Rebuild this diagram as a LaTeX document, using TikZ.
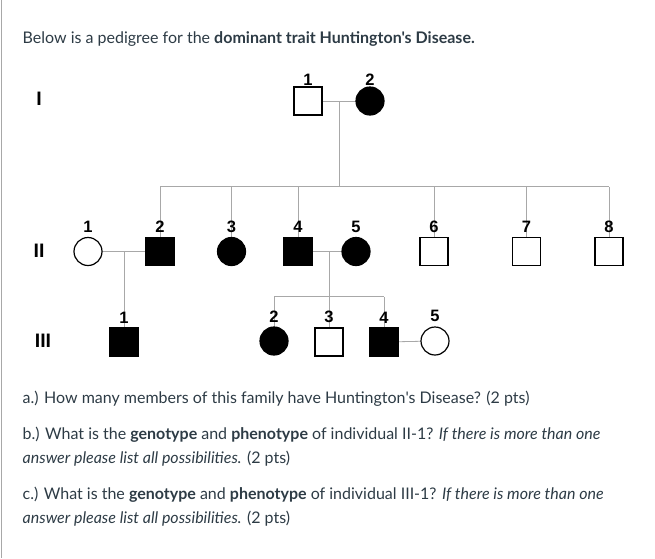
\documentclass[tikz,border=0pt]{standalone}
\usepackage{fontspec}
\setmainfont{Lato}[Ligatures=TeXOff]
\newfontfamily\pedfont{Liberation Sans}
\usetikzlibrary{positioning,backgrounds}
\definecolor{canvastext}{HTML}{2D3B45}
\definecolor{pedline}{HTML}{A8A8A8}

\begin{document}
\begin{tikzpicture}[x=1pt, y=-1pt,
  every node/.style={inner sep=0pt, outer sep=0pt},
  person/.style={draw, line width=1.2pt, minimum size=28pt},
  male/.style={person, rectangle},
  female/.style={person, circle},
  hd/.style={fill=black},
  num/.style={font=\pedfont\bfseries\fontsize{16.5}{16.5}\selectfont, label distance=#1},
  num/.default=5pt,
  gen/.style={font=\pedfont\bfseries\fontsize{19.5}{19.5}\selectfont},
  txt/.style={anchor=base west, font=\fontsize{16}{25}\selectfont, text=canvastext},
  kin/.style={draw=pedline, line width=0.8pt}]
\useasboundingbox (0,0) rectangle (655,558);
\draw[pedline, line width=0.8pt] (1.5,0) -- (1.5,558);

\node[txt] (title) at (22.7,43.3) {Below is a pedigree for the \textbf{dominant trait Huntington's Disease.}};

% generation labels
\node[gen] (gI) at (39,99) {I};
\node[gen] (gII) at (39,250.5) {II};
\node[gen] (gIII) at (43,340.5) {III};

% generation I
\node[male] (i1) at (308,101) [label={[num=1.5pt]above:1}] {};
\node[female, hd] (i2) at (370,101) [label={[num=1.5pt]above:2}] {};

% generation II
\node[female] (ii1) at (88,251.5) [label={[num]above:1}] {};
\node[male, hd] (ii2) at (160,251.5) [label={[num]above:2}] {};
\node[female, hd] (ii3) at (231.5,251.5) [label={[num]above:3}] {};
\node[male, hd] (ii4) at (298,251.5) [label={[num]above:4}] {};
\node[female, hd] (ii5) at (356,251.5) [label={[num]above:5}] {};
\node[male] (ii6) at (434,251.5) [label={[num]above:6}] {};
\node[male] (ii7) at (526.5,251.5) [label={[num]above:7}] {};
\node[male] (ii8) at (609,251.5) [label={[num]above:8}] {};

% generation III
\node[male, hd] (iii1) at (124,342) [label={[num]above:1}] {};
\node[female, hd] (iii2) at (274,341) [label={[num]above:2}] {};
\node[male] (iii3) at (329,342) [label={[num]above:3}] {};
\node[male, hd] (iii4) at (384,342) [label={[num]above:4}] {};
\node[female] (iii5) at (435,341) [label={[num]above:5}] {};

% connectors
\coordinate (sibII) at (339,186.7);
\coordinate (sibIII) at (329,296.7);
\begin{scope}[on background layer]
\draw[kin] (i1) -- (i2);
\draw[kin] (i1 -| sibII) -- (sibII);
\draw[kin] (ii2.north |- sibII) -- (ii8.north |- sibII);
\foreach \k in {ii2,ii3,ii4,ii6,ii7,ii8}
  \draw[kin] (\k.north) -- (\k.north |- sibII);
\draw[kin] (ii1) -- (ii2);
\draw[kin] (iii1.north |- ii1) -- (iii1.north);
\draw[kin] (ii4) -- (ii5);
\draw[kin] (sibIII |- ii4) -- (sibIII);
\draw[kin] (iii2.north |- sibIII) -- (iii4.north |- sibIII);
\foreach \k in {iii2,iii3,iii4}
  \draw[kin] (\k.north) -- (\k.north |- sibIII);
\draw[kin] (iii4) -- (iii5);
\end{scope}

% questions
\node[txt] (qa) at (22.7,403.3) {a.) How many members of this family have Huntington's Disease? (2 pts)};
\node[txt] (qb) at (22.7,439) {b.) What is the \textbf{genotype} and \textbf{phenotype} of individual II-1? \textit{If there is more than one}};
\node[txt] (qb2) at (22.7,463) {\textit{answer please list all possibilities.} (2 pts)};
\node[txt] (qc) at (22.7,499) {c.) What is the \textbf{genotype} and \textbf{phenotype} of individual III-1? \textit{If there is more than one}};
\node[txt] (qc2) at (22.7,523) {\textit{answer please list all possibilities.} (2 pts)};
\end{tikzpicture}
\end{document}
